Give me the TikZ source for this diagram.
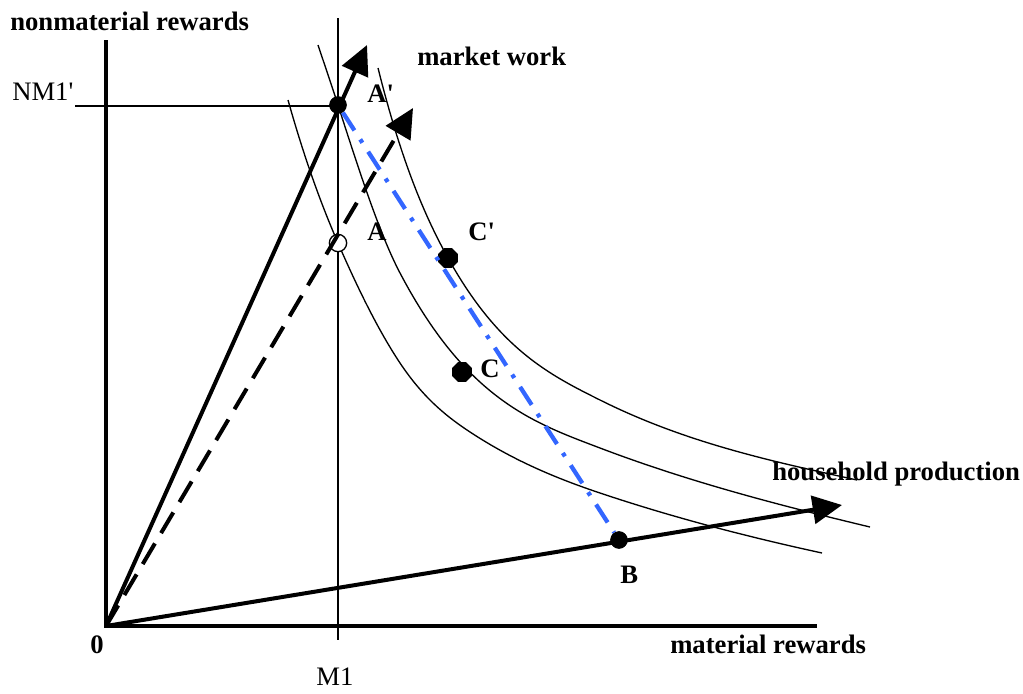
\documentclass[tikz,border=0pt]{standalone}
\usepackage{fontspec}
\setmainfont{Liberation Serif}
\usetikzlibrary{arrows.meta,shapes.geometric}
\definecolor{dashblue}{RGB}{51,102,255}
\begin{document}
\begin{tikzpicture}[x=0.75pt,y=-0.75pt,
  lbl/.style={font=\fontsize{20}{24}\selectfont\bfseries, inner sep=0pt},
  rlbl/.style={font=\fontsize{20}{24}\selectfont, inner sep=0pt},
  thincurve/.style={line width=1pt},
  axisline/.style={line width=2.3pt},
  vec/.style={line width=3pt, -{Triangle[length=22pt,width=21pt]}},
  bigdot/.style={circle, fill=black, inner sep=0pt, minimum size=13pt},
  octdot/.style={regular polygon, regular polygon sides=8, fill=black, inner sep=0pt, minimum size=16pt},
  opendot/.style={circle, draw=black, line width=1pt, fill=white, inner sep=0pt, minimum size=13pt},
]
\useasboundingbox (0,0) rectangle (1023,693);

% coordinates
\coordinate (O) at (106,626);
\coordinate (ytop) at (106,40);
\coordinate (xend) at (817,626);
\coordinate (mtop) at (338,18);
\coordinate (mbot) at (338,640);
\coordinate (nmleft) at (75,106);
\coordinate (nmright) at (338,106);
\coordinate (mwtip) at (367,45);
\coordinate (dtip) at (413,108);
\coordinate (hptip) at (842,505);

% axes and reference lines
\draw[axisline] (ytop) -- (O) -- (xend);
\draw[thincurve] (mtop) -- (mbot);
\draw[thincurve] (nmleft) -- (nmright);

% indifference curves
\draw[thincurve] (288,100) .. controls (304.67,159.3) and (321.33,204.7) .. (338,243)
  .. controls (358.67,290.5) and (379.33,332) .. (400,363)
  .. controls (422.33,396.5) and (444.67,415) .. (467,430)
  .. controls (511.33,459.7) and (555.67,478.15) .. (600,493)
  .. controls (674,517.8) and (748,536.9) .. (822,553);
\draw[thincurve] (318,45) .. controls (324.67,65) and (331.33,84.3) .. (338,105)
  .. controls (358.67,169.1) and (379.33,233.7) .. (400,273)
  .. controls (466.67,399.7) and (533.33,422.7) .. (600,448)
  .. controls (690,482.2) and (780,505.4) .. (870,527);
\draw[thincurve] (378,68) .. controls (401.33,161.3) and (424.67,216) .. (448,258)
  .. controls (498.67,349.2) and (549.33,374.7) .. (600,400)
  .. controls (685.67,442.8) and (771.33,461.2) .. (857,480);

% dots
\node[bigdot] (Ap) at (338,105) {};
\node[opendot] (A) at (338,243) {};
\node[octdot] (Cp) at (448,258) {};
\node[octdot] (C) at (462,372) {};
\node[bigdot] (B) at (619,540) {};

% blue dash-dot line
\draw[dashblue, line width=3.2pt, dash pattern=on 16pt off 8pt on 3pt off 8pt] (Ap) -- (B);

% vectors
\draw[vec] (O) -- (mwtip);
\draw[vec, dash pattern=on 18pt off 9pt] (O) -- (dtip);
\draw[vec] (O) -- (hptip);

\node[bigdot] at (Ap) {};
\node[bigdot] at (B) {};

% labels
\node[lbl, anchor=base west] (ylab) at (10,30) {nonmaterial rewards};
\node[rlbl, anchor=base west] (nmlab) at (12,100) {NM1\textquotesingle};
\node[lbl, anchor=base west] (mwlab) at (417,65) {market work};
\node[lbl, anchor=base west] (hplab) at (772,480) {household production};
\node[lbl, anchor=base west] (xlab) at (670,653) {material rewards};
\node[lbl, anchor=base] (zero) at (97,653) {0};
\node[rlbl, anchor=base] (m1lab) at (335,685) {M1};
\node[lbl, anchor=base west] (Aplab) at (367,102) {A\textquotesingle};
\node[lbl, anchor=base west] (Alab) at (367,240) {A};
\node[lbl, anchor=base west] (Cplab) at (468,240) {C\textquotesingle};
\node[lbl, anchor=base west] (Clab) at (480,377) {C};
\node[lbl, anchor=base west] (Blab) at (620,583) {B};
\end{tikzpicture}
\end{document}
